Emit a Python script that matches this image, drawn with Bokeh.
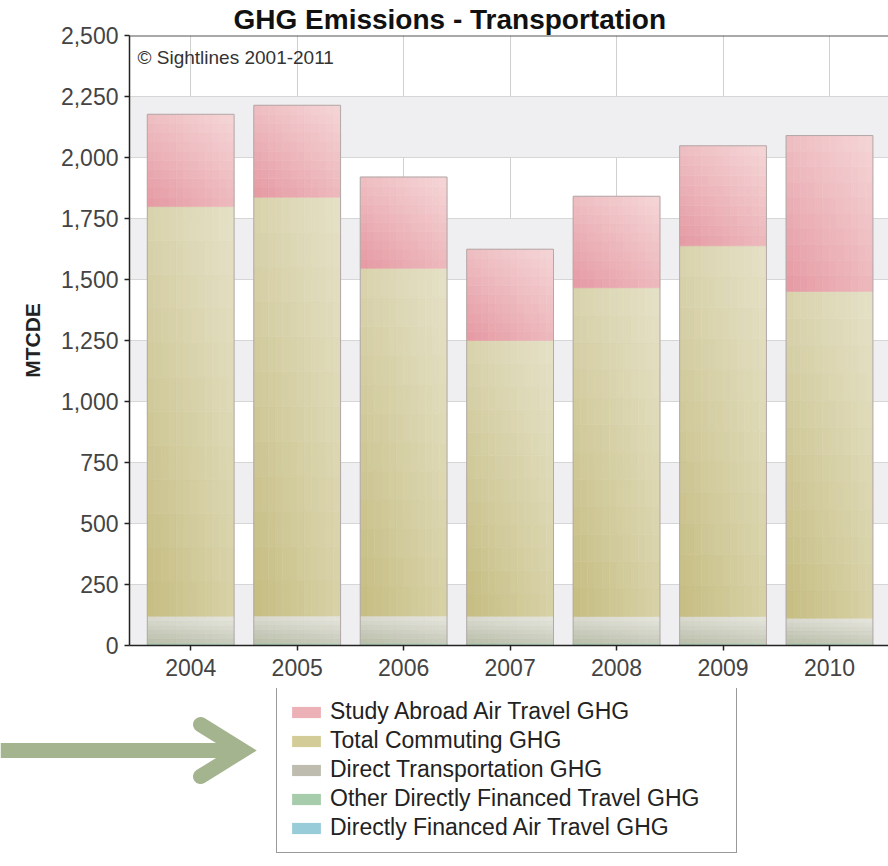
import numpy as np
from bokeh.plotting import figure
from bokeh.models import (Range1d, FixedTicker, NumeralTickFormatter, Label, Span,
                          Legend, LegendItem, ColumnDataSource)
from bokeh.layouts import column
from bokeh.embed import file_html
from bokeh.resources import INLINE

# ---------------- data ----------------
years = [2004, 2005, 2006, 2007, 2008, 2009, 2010]
year_labels = ["2004", "2005", "2006", "2007", "2008", "2009", "2010"]
air_travel = [4, 4, 4, 4, 4, 4, 4]                       # Directly Financed Air Travel GHG
other_travel = [6, 6, 6, 6, 6, 6, 6]                     # Other Directly Financed Travel GHG
direct_transport = [110, 111, 111, 110, 109, 109, 102]   # Direct Transportation GHG
commuting = [1679, 1716, 1425, 1130, 1347, 1519, 1339]  # Total Commuting GHG
study_abroad = [378, 377, 374, 374, 375, 410, 639]       # Study Abroad Air Travel GHG
y_ticks = [0, 250, 500, 750, 1000, 1250, 1500, 1750, 2000, 2250, 2500]

series_names = ["Study Abroad Air Travel GHG", "Total Commuting GHG",
                "Direct Transportation GHG", "Other Directly Financed Travel GHG",
                "Directly Financed Air Travel GHG"]

FONT = "Liberation Sans"
BAR_W = 0.815

p = figure(width=888, height=688, output_backend="svg", toolbar_location=None,
           x_range=Range1d(2003.425, 2010.554), y_range=Range1d(0, 2500),
           min_border_left=129, min_border_right=0, min_border_bottom=43,
           min_border_top=0)
p.frame_align = False
p.title.text = "GHG Emissions - Transportation"
p.title.text_font = FONT
p.title.text_font_size = "28px"
p.title.text_font_style = "bold"
p.title.text_color = "#111111"
p.title.align = "left"
p.title.offset = 104
p.title.standoff = 2
p.outline_line_color = None
p.background_fill_color = "white"
p.border_fill_color = "white"

# axes
p.xaxis.ticker = FixedTicker(ticks=years)
p.xaxis.major_label_overrides = {y: l for y, l in zip(years, year_labels)}
p.yaxis.ticker = FixedTicker(ticks=y_ticks)
p.yaxis.formatter = NumeralTickFormatter(format="0,0")
p.yaxis.axis_label = "MTCDE"
p.yaxis.axis_label_text_font = FONT
p.yaxis.axis_label_text_font_size = "21px"
p.yaxis.axis_label_text_font_style = "bold"
p.yaxis.axis_label_text_color = "#222222"
p.yaxis.axis_label_standoff = 14
for ax in (p.xaxis, p.yaxis):
    ax.axis_line_color = "#222222"
    ax.axis_line_width = 1.5
    ax.major_tick_line_color = "#222222"
    ax.major_tick_line_width = 1.5
    ax.major_tick_out = 5
    ax.major_tick_in = 0
    ax.minor_tick_line_color = None
    ax.major_label_text_font = FONT
    ax.major_label_text_font_size = "23px"
    ax.major_label_text_color = "#444444"
p.yaxis.major_label_standoff = 6
p.xaxis.major_label_standoff = 8

# grid: the first tick is repeated so that shading starts with the lowest interval
p.ygrid.ticker = FixedTicker(ticks=[y_ticks[0]] + y_ticks)
p.ygrid.grid_line_color = "#d6d6d6"
p.ygrid.band_fill_color = "#efeff1"
p.ygrid.band_fill_alpha = 1.0
p.xgrid.grid_line_color = "#d0d0d0"

# top border line
p.add_layout(Span(location=2500, dimension="width", line_color="#555555", line_width=2))


def hexrgb(h):
    return np.array([int(h[i:i + 2], 16) for i in (1, 3, 5)], float)


def mix(c00, c10, c01, c11, u, v):
    c = (1 - u) * (1 - v) * c00 + u * (1 - v) * c10 + (1 - u) * v * c01 + u * v * c11
    return "#%02x%02x%02x" % tuple(int(round(x)) for x in c)


def shaded(fig, bottoms, tops, corners, nx, ny):
    c00, c10, c01, c11 = [hexrgb(c) for c in corners]
    xs, ys, ws, hs, cs = [], [], [], [], []
    for x, b, t in zip(years, bottoms, tops):
        for j in range(ny):
            y0 = b + (t - b) * j / ny
            y1 = b + (t - b) * (j + 1) / ny
            v = (j + 0.5) / ny
            for i in range(nx):
                u = (i + 0.5) / nx
                xs.append(x - BAR_W / 2 + BAR_W * (i + 0.5) / nx)
                ws.append(BAR_W / nx)
                ys.append((y0 + y1) / 2)
                hs.append(y1 - y0)
                cs.append(mix(c00, c10, c01, c11, u, v))
    src = ColumnDataSource(dict(x=xs, y=ys, w=ws, h=hs, c=cs))
    return fig.rect(x="x", y="y", width="w", height="h", source=src,
                    fill_color="c", line_color="c", line_width=0.6)


a = np.array(air_travel, float)
o = np.array(other_travel, float)
d = np.array(direct_transport, float)
cm = np.array(commuting, float)
s = np.array(study_abroad, float)
b1 = a
b2 = b1 + o
b3 = b2 + d
b4 = b3 + cm
b5 = b4 + s

shaded(p, np.zeros(7), b1, ["#9cc6d0", "#b2d4dc", "#9cc6d0", "#b2d4dc"], 6, 1)
shaded(p, b1, b2, ["#a9c4a9", "#bcd2bc", "#a9c4a9", "#bcd2bc"], 6, 1)
shaded(p, b2, b3, ["#b9bea9", "#c8cbbb", "#dadad0", "#e6e6de"], 12, 6)
shaded(p, b3, b4, ["#c5bc80", "#d7d1a6", "#d9d3ae", "#e5e1c7"], 12, 12)
shaded(p, b4, b5, ["#e598a2", "#edb8bc", "#eebec2", "#f5d5d7"], 12, 10)

# bar outlines
p.vbar(x=years, top=b5, bottom=0, width=BAR_W, fill_color=None,
       line_color="#b3a9a9", line_width=1)

# copyright note
p.add_layout(Label(x=2003.425, y=2500 - 46, x_offset=8, text="\u00a9 Sightlines 2001-2011",
                   text_font=FONT, text_font_size="19px", text_color="#333333",
                   text_baseline="top"))

# ---------------- bottom panel: arrow + legend ----------------
p2 = figure(width=888, height=178, output_backend="svg", toolbar_location=None,
            x_range=Range1d(0, 888), y_range=Range1d(0, 178), min_border=0,
            x_axis_location=None, y_axis_location=None)
p2.frame_align = False
p2.grid.visible = False
p2.outline_line_color = None
p2.border_fill_color = "white"

ARROW = "#a4b48e"
p2.line(x=[0, 236], y=[116, 116], line_color=ARROW, line_width=15, line_cap="butt")
p2.line(x=[200, 242, 200], y=[142, 116, 90], line_color=ARROW, line_width=15,
        line_join="miter", line_cap="round")

swatch_colors = ["#ebb1b7", "#d4cc98", "#bdbcae", "#a6ccab", "#98ccd8"]
items = []
for name, col in zip(series_names, swatch_colors):
    # legend swatch renderers placed outside the visible area
    r = p2.rect(x=[-500], y=[-500], width=[1], height=[1], fill_color=col, line_color=None)
    items.append(LegendItem(label=name, renderers=[r]))

legend = Legend(items=items, location=(276, 13), orientation="vertical",
                label_text_font=FONT, label_text_font_size="23px",
                label_text_color="#222222", glyph_width=36, glyph_height=14,
                label_standoff=6, label_height=24, label_width=395, spacing=2,
                padding=11, margin=0, border_line_color="#333333",
                border_line_width=1.5, background_fill_color="white",
                background_fill_alpha=1.0)
p2.add_layout(legend)

layout = column(p, p2, spacing=0)

with open("out.html", "w") as f:
    f.write(file_html(layout, INLINE))
